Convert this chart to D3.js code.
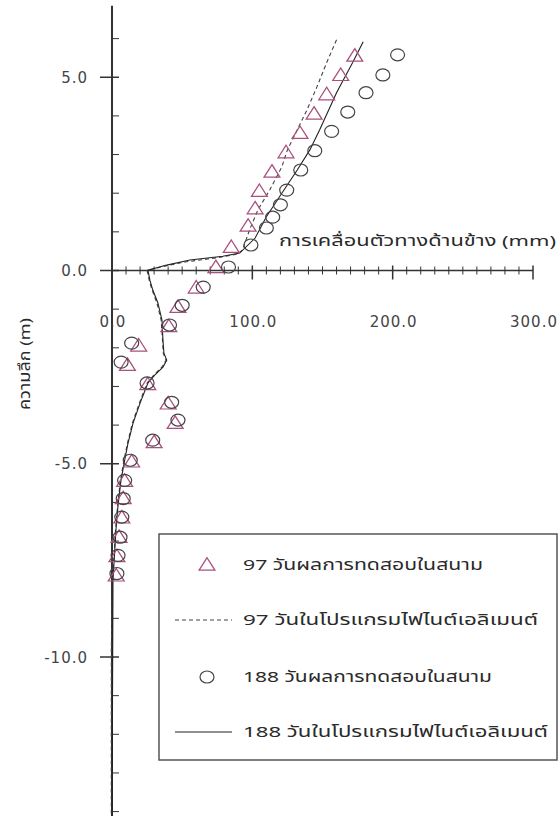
<!DOCTYPE html>
<html><head><meta charset="utf-8">
<script src="https://cdn.jsdelivr.net/npm/d3@7/dist/d3.min.js"></script>
<style>
body{margin:0;background:#fff;}
svg{display:block;}
.num{font-family:"DejaVu Sans",Verdana,sans-serif;font-size:15px;fill:#444;letter-spacing:1px;}
.th{font-family:"Noto Sans Thai","Noto Sans",sans-serif;fill:#2a2a2a;}
</style></head>
<body>
<svg id="c" width="559" height="816"></svg>
<script>
// ---- data ----
const xTicks = [0, 100, 200, 300];
const xTickLabels = ["0.0", "100.0", "200.0", "300.0"];
const yTicks = [5, 0, -5, -10];
const yTickLabels = ["5.0", "0.0", "-5.0", "-10.0"];

const depth97Field = [5.55,5.05,4.55,4.05,3.55,3.05,2.55,2.05,1.6,1.15,0.6,0.08,-0.45,-0.95,-1.45,-1.95,-2.45,-2.95,-3.45,-3.95,-4.45,-4.95,-5.45,-5.9,-6.4,-6.9,-7.4,-7.9];
const disp97Field  = [173,163,153,144,134,124,114,105,102,97,85,74,60,47,40.5,19,11,25.5,40,45,30,14,9,8,7,5,3.5,3];

const depth188Field = [5.58,5.06,4.6,4.1,3.6,3.1,2.6,2.08,1.7,1.38,1.1,0.66,0.09,-0.43,-0.9,-1.41,-1.88,-2.37,-2.91,-3.41,-3.87,-4.39,-4.91,-5.43,-5.9,-6.38,-6.9,-7.37,-7.84];
const disp188Field  = [203.5,193,181,168,156.5,144.5,134.5,124.5,120,114.5,110,99,83,65,50,41,14,6.5,25,42.5,47,29,13,9,8,7,5.7,4.3,3.5];

const depth97FE = [5.97,5.38,4.75,4.16,3.64,3.12,2.68,2.09,1.57,1.05,0.53,0.42,0.33,0.22,0.1,0.0,-0.25,-0.5,-0.84,-1.28,-1.8,-2.14,-2.32,-2.5,-2.7,-2.91,-3.43,-3.95,-4.47,-4.91,-5.43,-6.07,-6.72,-7.16,-8.02,-9.83,-14.2];
const disp97FE  = [160,153,146,139,132,125,121,112.5,104,98,93,89,75,52,36,25,26.5,28.5,32,35,36,36.5,38.5,35.5,30,25,19.5,14.5,11,8.5,6,4,2.5,1.8,0.3,-0.5,-0.5];

const depth188FE = [5.92,5.38,4.6,3.64,3.12,2.6,2.0,1.39,0.84,0.45,0.37,0.27,0.14,0.01,-0.25,-0.5,-0.84,-1.28,-1.8,-2.14,-2.32,-2.5,-2.7,-2.91,-3.43,-3.95,-4.47,-4.91,-5.43,-6.07,-6.72,-7.16,-8.02,-9.83,-14.2];
const disp188FE  = [179,171.5,160,148,141,132,121,110,102,91,79,55.5,39,25.6,27,29,32.7,35.6,36.3,37,39,36.3,30.6,25.6,20,15,11.4,9,6.4,4.3,2.8,2.1,0.7,0.5,0];

const legendLabels = ["97 วันผลการทดสอบในสนาม","97 วันในโปรแกรมไฟไนต์เอลิเมนต์","188 วันผลการทดสอบในสนาม","188 วันในโปรแกรมไฟไนต์เอลิเมนต์"];
const legendWidths = [240, 295, 249, 305];
const xTitle = "การเคลื่อนตัวทางด้านข้าง (mm)";
const yTitle = "ความลึก (m)";

// ---- scales ----
const svg = d3.select("#c");
const x = d3.scaleLinear().domain([0, 300]).range([112, 533]);
const y = d3.scaleLinear().domain([0, -10]).range([270.5, 657]);
const pink = "#a9507f";
const dark = "#333";

// ---- y axis ----
svg.append("line").attr("x1", x(0)).attr("x2", x(0)).attr("y1", y(6.85)).attr("y2", 816)
  .attr("stroke", dark).attr("stroke-width", 2);
d3.range(-14, 7).forEach(v => {
  const major = v % 5 === 0;
  svg.append("line").attr("x1", major ? x(0) - 12 : x(0)).attr("x2", x(0) + 7)
    .attr("y1", y(v)).attr("y2", y(v)).attr("stroke", dark).attr("stroke-width", major ? 1.5 : 1);
});
yTicks.forEach((v, i) => {
  svg.append("text").attr("class", "num").attr("x", 88).attr("y", y(v) + 5.5)
    .attr("text-anchor", "end").text(yTickLabels[i]);
});

// ---- x axis ----
svg.append("line").attr("x1", x(0)).attr("x2", x(300)).attr("y1", y(0)).attr("y2", y(0))
  .attr("stroke", dark).attr("stroke-width", 1.5);
d3.range(0, 301, 10).forEach(v => {
  const major = v % 100 === 0;
  svg.append("line").attr("x1", x(v)).attr("x2", x(v))
    .attr("y1", y(0) - (major ? 5 : 4)).attr("y2", y(0) + (major ? 9 : 4))
    .attr("stroke", dark).attr("stroke-width", major ? 1.5 : 1);
});
xTicks.forEach((v, i) => {
  svg.append("text").attr("class", "num").attr("x", x(v) + 1).attr("y", 327)
    .attr("text-anchor", "middle").text(xTickLabels[i]);
});

// titles
svg.append("text").attr("class", "th").attr("x", 279).attr("y", 246)
  .attr("font-size", 15).attr("textLength", 277).attr("lengthAdjust", "spacingAndGlyphs").text(xTitle);
svg.append("text").attr("class", "th").attr("transform", "translate(30,364) rotate(-90)")
  .attr("text-anchor", "middle").attr("font-size", 15)
  .attr("textLength", 92).attr("lengthAdjust", "spacingAndGlyphs").text(yTitle);

// ---- lines ----
const line = d3.line().x(d => x(d[0])).y(d => y(d[1]));
svg.append("path").attr("d", line(d3.zip(disp97FE, depth97FE)))
  .attr("fill", "none").attr("stroke", "#444").attr("stroke-width", 1.1).attr("stroke-dasharray", "4,3");
svg.append("path").attr("d", line(d3.zip(disp188FE, depth188FE)))
  .attr("fill", "none").attr("stroke", "#222").attr("stroke-width", 1.1);

// ---- markers ----
const tri = d3.symbol().type(d3.symbolTriangle).size(90);
svg.append("g").selectAll("path").data(d3.zip(disp97Field, depth97Field)).join("path")
  .attr("d", tri).attr("transform", d => `translate(${x(d[0])},${y(d[1]) + 1}) scale(1.1,1)`)
  .attr("fill", "none").attr("stroke", pink).attr("stroke-width", 1.2);
svg.append("g").selectAll("ellipse").data(d3.zip(disp188Field, depth188Field)).join("ellipse")
  .attr("cx", d => x(d[0])).attr("cy", d => y(d[1])).attr("rx", 7).attr("ry", 6)
  .attr("fill", "none").attr("stroke", "#444").attr("stroke-width", 1.2);

// ---- legend ----
const lg = svg.append("g");
lg.append("rect").attr("x", 159).attr("y", 534).attr("width", 398).attr("height", 226)
  .attr("fill", "#fff").attr("stroke", "#555").attr("stroke-width", 1.5);
const rowsY = [565, 620, 677, 732];
lg.append("path").attr("d", tri).attr("transform", `translate(207,${rowsY[0] + 1}) scale(1.1,1)`)
  .attr("fill", "none").attr("stroke", pink).attr("stroke-width", 1.2);
lg.append("line").attr("x1", 175).attr("x2", 232).attr("y1", rowsY[1]).attr("y2", rowsY[1])
  .attr("stroke", "#444").attr("stroke-width", 1.1).attr("stroke-dasharray", "4,3");
lg.append("ellipse").attr("cx", 207).attr("cy", rowsY[2]).attr("rx", 7).attr("ry", 6)
  .attr("fill", "none").attr("stroke", "#444").attr("stroke-width", 1.2);
lg.append("line").attr("x1", 175).attr("x2", 232).attr("y1", rowsY[3]).attr("y2", rowsY[3])
  .attr("stroke", "#222").attr("stroke-width", 1.1);
legendLabels.forEach((t, i) => {
  lg.append("text").attr("class", "th").attr("x", 243).attr("y", rowsY[i] + 5)
    .attr("font-size", 15).attr("textLength", legendWidths[i]).attr("lengthAdjust", "spacingAndGlyphs").text(t);
});
</script>
</body></html>
